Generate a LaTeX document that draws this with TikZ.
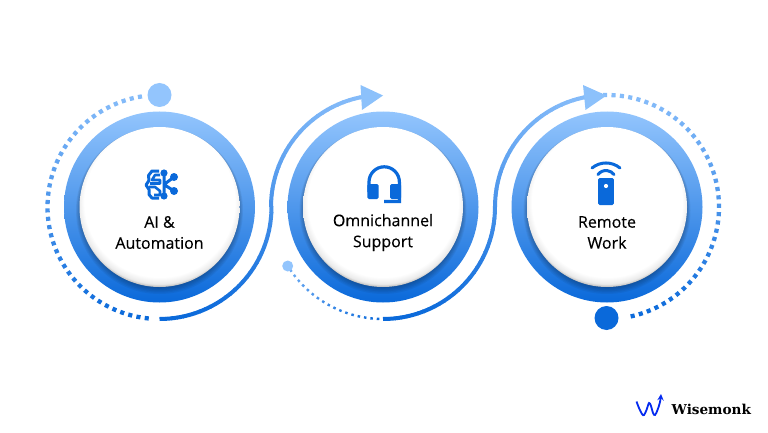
\documentclass[tikz,border=0pt]{standalone}
\usepackage{fontspec}
\setmainfont[RawFeature={embolden=0.35}]{Open Sans}
\newfontfamily\logofont{DejaVu Serif}
\usetikzlibrary{arrows}
\definecolor{lightb}{HTML}{93C5FD}
\definecolor{darkb}{HTML}{0A69DA}
\pgfdeclareradialshading{discshade}{\pgfpoint{0bp}{3bp}}{color(0bp)=(white); color(23.5bp)=(white); color(25.5bp)=(white!92!black); color(28bp)=(white!40!black); color(50bp)=(white!40!black)}
\newcommand{\dotseg}[4]{\pgfmathtruncatemacro{\mixv}{55-45*sin(#2)}
  \draw[line width=#4pt,color=darkb!\mixv!lightb] (#1) ++(#2:112) arc[start angle=#2,delta angle=#3,radius=112];}
\begin{document}
\begin{tikzpicture}[x=1pt,y=1pt,
  ringdisc/.style={circle,draw=none,inner sep=0pt,minimum size=191pt,top color=lightb,bottom color=darkb},
  whitedisc/.style={circle,draw=none,inner sep=0pt,minimum size=160pt,shading=discshade},
  caption/.style={align=center,font=\fontsize{16}{21}\selectfont,text=black}]
  \useasboundingbox (0,0) rectangle (768,432);
  \coordinate (ca) at (159.5,225);
  \coordinate (cb) at (383,225);
  \coordinate (cc) at (607,225);
  % rings
  \foreach \c/\r/\d in {ca/ringa/disca,cb/ringb/discb,cc/ringc/discc} {
    \node[ringdisc] (\r) at (\c) {};
    \foreach \k in {0,...,5}
      \fill[black,opacity=0.05] (\c)+(0,-1-0.5*\k) circle (79.5+0.8*\k);
    \node[whitedisc] (\d) at (\c) {};
  }
  % dotted arcs
  \foreach \a in {99,103.3,...,266} {\dotseg{ca}{\a}{2.1}{4.3}}
  \foreach \a in {92,87.7,...,-80} {\dotseg{cc}{\a}{-2.1}{4.3}}
  \foreach \a [evaluate=\a as \mixv using {int((\a-214)*100/54)}] in {214,217.3,...,268}
    \draw[line width=2.4pt,color=darkb!\mixv!lightb!70!darkb] (cb) ++(\a:112) arc[start angle=\a,delta angle=1.3,radius=112];
  % solid arcs
  \foreach \a in {-90,-87,...,-3} {\dotseg{ca}{\a}{3.4}{4}}
  \foreach \a in {180,177,...,96} {\dotseg{cb}{\a}{-3.4}{4}}
  \foreach \a in {-90,-87,...,-3} {\dotseg{cb}{\a}{3.4}{4}}
  \foreach \a in {180,177,...,96} {\dotseg{cc}{\a}{-3.4}{4}}
  % end points
  \node[circle,fill=lightb,inner sep=0pt,minimum size=24pt] (starta) at (159.5,337) {};
  \node[circle,fill=lightb,inner sep=0pt,minimum size=11pt] (startb) at (287.7,166) {};
  \node[circle,fill=darkb,inner sep=0pt,minimum size=24pt] (endc) at (606.5,114) {};
  \fill[lightb!95!darkb] (383,336.5) -- (360.5,347) -- (362,322) -- cycle;
  \fill[lightb!95!darkb] (606.5,336.5) -- (583,347) -- (585.5,322) -- cycle;
  % labels
  \node[caption] (texta) at (159.5,199.5) {AI \&\\Automation};
  \node[caption] (textb) at (383,199.5) {Omnichannel\\Support};
  \node[caption] (textc) at (607,199.5) {Remote\\Work};
  % brain icon
  \draw[darkb,line width=3pt,line join=round] (159,261) -- (152,261) -- (148.5,256.5) -- (149,251.5) -- (146,247) -- (149,242.5) -- (149,237.5) -- (152,234) -- (159,234);
  \draw[darkb,line width=2.6pt,line join=round] (160,257) -- (155,257) -- (152,252) -- (160,252) -- (160,248.5) -- (150,248.5);
  \draw[darkb,line width=2.6pt,line join=round] (149,245) -- (155,245) -- (160,241) -- (160,237) -- (154,237);
  \draw[darkb,line width=3pt] (164,259) -- (164,236) (164,247.5) -- (174,255) (164,247.5) -- (174,241);
  \fill[darkb] (164,259) circle (3.6) (164,236) circle (3.6) (174,255) circle (4) (174,241) circle (4);
  % headset icon
  \draw[darkb,line width=3.2pt] (369,240) -- (369,250) arc[start angle=180,delta angle=-180,radius=15.2] -- (399.4,230.5) -- (384,230.5);
  \fill[darkb,rounded corners=1.5pt] (367.4,233) rectangle (378.5,248);
  \fill[darkb,rounded corners=1.5pt] (390,233) rectangle (401,248);
  % remote icon
  \fill[darkb,rounded corners=1.5pt] (598.2,227) rectangle (613.8,254);
  \fill[white] (606,246) circle (2.1);
  \draw[darkb,line width=3pt,line cap=round] (592,264) arc[start angle=129.5,end angle=50.5,radius=22];
  \draw[darkb,line width=3pt,line cap=round] (598,257.5) arc[start angle=143,end angle=37,radius=10];
  % logo
  \draw[color=blue!60!darkb,line width=1.8pt,-stealth] plot[smooth,tension=0.6] coordinates {(636.5,30.5) (639,24) (642,18) (644,17) (646.5,22) (649,29) (651,26) (653,19) (655,17) (657.5,22) (660,30) (661,38)};
  \node[anchor=west,inner sep=0pt,font=\logofont\bfseries\fontsize{13.6}{16}\selectfont,text=black] (logo) at (671.5,23) {Wisemonk};
\end{tikzpicture}
\end{document}
